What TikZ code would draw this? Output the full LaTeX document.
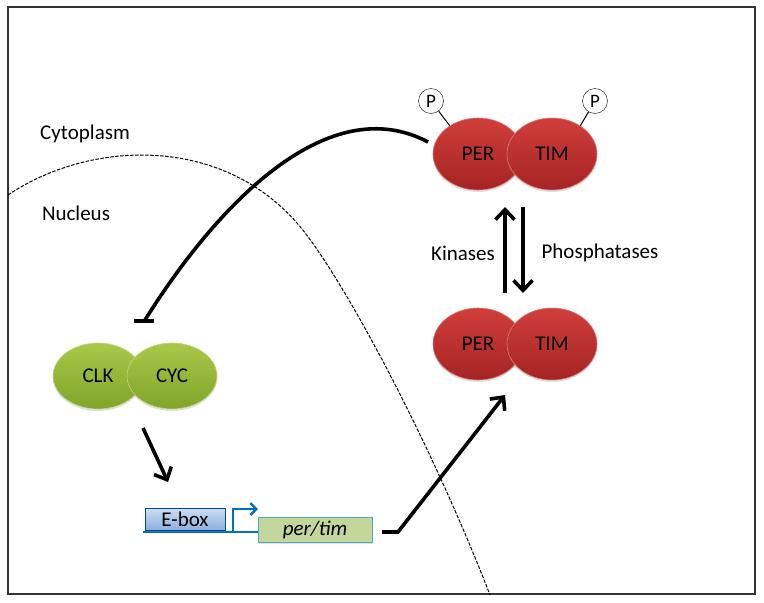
\documentclass[tikz,border=0pt]{standalone}
\usepackage{fontspec}
\setmainfont{Carlito}
\usetikzlibrary{shapes.geometric,arrows.meta,shadows}

\definecolor{redtop}{RGB}{208,62,58}
\definecolor{redbot}{RGB}{165,36,36}
\definecolor{greentop}{RGB}{168,200,72}
\definecolor{greenbot}{RGB}{128,165,42}
\definecolor{geneblue}{RGB}{0,112,192}
\definecolor{eboxtop}{RGB}{205,222,242}
\definecolor{eboxbot}{RGB}{140,175,222}
\definecolor{orfgreen}{RGB}{195,214,155}
\definecolor{orfedge}{RGB}{75,172,198}

\tikzset{
  protein/.style={ellipse, minimum width=90pt, minimum height=72pt, inner sep=0pt,
    font=\fontsize{21}{24}\selectfont,
    drop shadow={opacity=0.25, shadow xshift=0pt, shadow yshift=-2pt}},
  redprot/.style={protein, top color=redtop, bottom color=redbot, draw=redtop!70!white, line width=0.6pt},
  greenprot/.style={protein, minimum height=66pt, top color=greentop, bottom color=greenbot, draw=greentop!70!white, line width=0.6pt},
  phos/.style={circle, draw, fill=white, minimum size=25pt, inner sep=0pt, font=\fontsize{19}{20}\selectfont},
  thickarrow/.style={line width=3.6pt, -{Straight Barb[length=10pt, width=19pt, line width=3.6pt]}},
  lbl/.style={font=\fontsize{21}{24}\selectfont}
}

\begin{document}
\begin{tikzpicture}[x=1pt, y=-1pt]
    \useasboundingbox (0,0) rectangle (764,603);
    \draw[line width=1.5pt, black!80] (8,7) rectangle (755,594);

    % nuclear envelope
    \draw[line width=1pt, dash pattern=on 3.5pt off 1.5pt]
        (8,195) .. controls (90,140) and (220,135) .. (297,223)
        .. controls (340,272) and (430,440) .. (490,595);
    \node[lbl] (cyto) at (85,134) {Cytoplasm};
    \node[lbl] (nuc) at (76,213) {Nucleus};

    % phosphorylated PER/TIM
    \node[redprot] (pert) at (478,154) {PER};
    \node[redprot] (timt) at (552,154) {TIM};
    \node[phos] (pl) at (431,101) {P};
    \node[phos] (pr) at (595,101) {P};
    \draw[line width=1pt] (pl) -- (pert.135);
    \draw[line width=1pt] (pr) -- (timt.45);

    % PER/TIM
    \node[redprot] (perb) at (478,344) {PER};
    \node[redprot] (timb) at (552,344) {TIM};

    \coordinate (kin1) at (505,293); \coordinate (kin2) at (505,207);
    \coordinate (pho1) at (523,207); \coordinate (pho2) at (523,293);
    \draw[thickarrow] (kin1) -- (kin2);
    \draw[thickarrow] (pho1) -- (pho2);
    \node[lbl] (kin) at (463,253) {Kinases};
    \node[lbl] (pho) at (600,253) {Phosphatases};

    % CLK/CYC
    \node[greenprot] (clk) at (98,376) {CLK};
    \node[greenprot] (cyc) at (172,376) {CYC};

    % inhibition
    \coordinate (inh0) at (428,142);
    \coordinate (inh1) at (145,320);
    \coordinate (barl) at (134,321); \coordinate (barr) at (154,321);
    \draw[line width=3.6pt] (inh0) .. controls (330,90) and (220,200) .. (inh1);
    \draw[line width=4pt] (barl) -- (barr);

    % gene
    \coordinate (cc1) at (143,428); \coordinate (cc2) at (168,482);
    \draw[thickarrow] (cc1) -- (cc2);
    \coordinate (line0) at (143,532); \coordinate (line1) at (260,532);
    \draw[geneblue, line width=2.8pt] (line0) -- (line1);
    \node[draw=geneblue!70!black, top color=eboxtop, bottom color=eboxbot, minimum width=80pt,
          minimum height=22pt, inner sep=0pt, lbl,
          drop shadow={opacity=0.25, shadow xshift=1pt, shadow yshift=-1.5pt}] (ebox) at (185,519) {E-box};
    \coordinate (tss0) at (233,532); \coordinate (tss1) at (233,509);
    \coordinate (tss2) at (258,509);
    \draw[geneblue, line width=2.6pt, -{Straight Barb[length=6pt, width=12pt, line width=2.4pt]}]
        (tss0) -- (tss1) -- (tss2);
    \node[draw=orfedge, fill=orfgreen, line width=0.8pt, minimum width=114pt, minimum height=25pt,
          inner sep=0pt, lbl, font=\fontsize{21}{24}\selectfont\itshape,
          drop shadow={opacity=0.25, shadow xshift=1pt, shadow yshift=-1.5pt}] (orf) at (315,529.5) {per/tim};

    % translation
    \coordinate (tr0) at (382,532); \coordinate (tr1) at (398,532);
    \coordinate (tr2) at (505,395);
    \draw[thickarrow] (tr0) -- (tr1) -- (tr2);
\end{tikzpicture}
\end{document}
